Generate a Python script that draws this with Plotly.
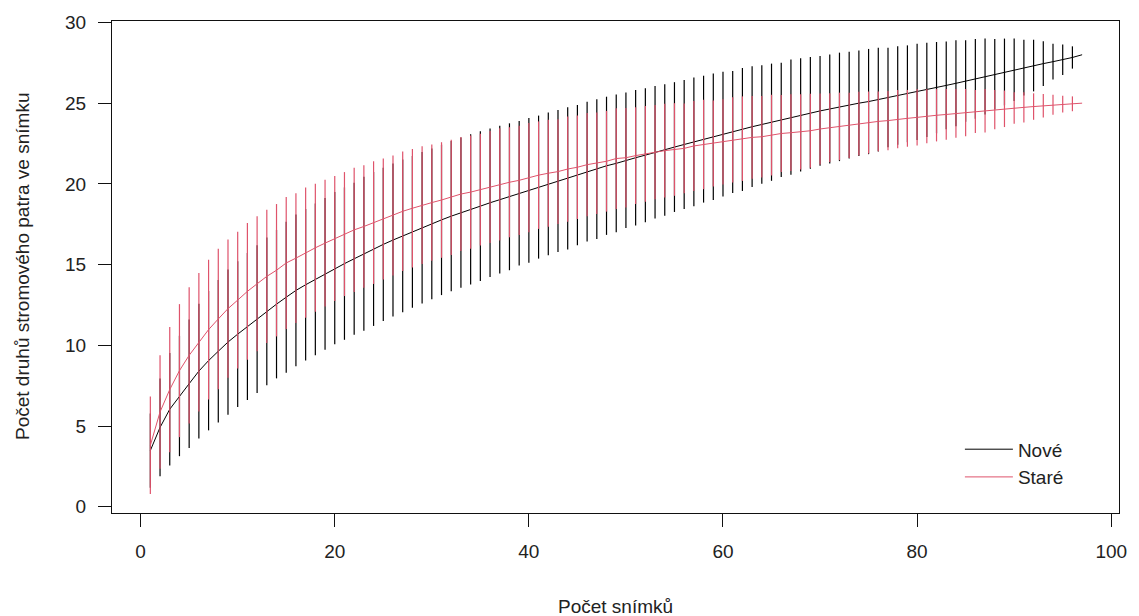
import plotly.graph_objects as go

# Species accumulation curves: mean richness and its standard deviation
# for each number of relevés (1..97), two sets of plots.
sites = list(range(1, 98))

nove_mean = [
    3.48, 4.91, 6.04, 6.86, 7.62, 8.40, 9.05, 9.63, 10.20, 10.69,
    11.16, 11.62, 12.10, 12.55, 12.98, 13.40, 13.75, 14.08, 14.42, 14.78,
    15.06, 15.36, 15.67, 15.97, 16.25, 16.52, 16.78, 17.02, 17.28, 17.52,
    17.77, 18.00, 18.22, 18.42, 18.62, 18.83, 19.02, 19.20, 19.42, 19.60,
    19.80, 20.00, 20.18, 20.34, 20.54, 20.76, 20.92, 21.12, 21.27, 21.46,
    21.62, 21.78, 21.96, 22.10, 22.28, 22.44, 22.60, 22.77, 22.92, 23.08,
    23.22, 23.37, 23.54, 23.68, 23.82, 23.97, 24.13, 24.27, 24.40, 24.52,
    24.64, 24.77, 24.88, 25.00, 25.10, 25.22, 25.35, 25.47, 25.58, 25.70,
    25.83, 25.96, 26.10, 26.23, 26.37, 26.51, 26.65, 26.79, 26.93, 27.07,
    27.20, 27.33, 27.45, 27.57, 27.69, 27.83, 28.00,
]
nove_sd = [
    2.30, 3.03, 3.48, 3.73, 3.98, 4.18, 4.32, 4.42, 4.50, 4.52,
    4.55, 4.57, 4.58, 4.60, 4.68, 4.70, 4.70, 4.70, 4.70, 4.72,
    4.72, 4.71, 4.77, 4.77, 4.75, 4.74, 4.73, 4.70, 4.69, 4.67,
    4.66, 4.66, 4.65, 4.65, 4.64, 4.60, 4.58, 4.55, 4.48, 4.48,
    4.43, 4.42, 4.40, 4.41, 4.35, 4.33, 4.33, 4.28, 4.26, 4.20,
    4.20, 4.15, 4.10, 4.07, 4.02, 3.99, 3.99, 3.93, 3.92, 3.86,
    3.78, 3.81, 3.74, 3.67, 3.63, 3.54, 3.57, 3.51, 3.46, 3.40,
    3.38, 3.36, 3.31, 3.27, 3.26, 3.21, 3.08, 3.05, 3.00, 2.98,
    2.92, 2.83, 2.72, 2.66, 2.52, 2.47, 2.35, 2.18, 2.07, 1.93,
    1.73, 1.60, 1.39, 1.11, 0.95, 0.69, 0.00,
]

stare_mean = [
    3.80, 5.87, 7.26, 8.43, 9.38, 10.19, 10.97, 11.63, 12.27, 12.80,
    13.34, 13.81, 14.27, 14.65, 15.10, 15.40, 15.74, 16.04, 16.33, 16.61,
    16.89, 17.15, 17.36, 17.60, 17.82, 18.04, 18.30, 18.49, 18.68, 18.84,
    19.00, 19.17, 19.37, 19.49, 19.64, 19.80, 19.97, 20.10, 20.22, 20.39,
    20.54, 20.66, 20.76, 20.92, 21.03, 21.19, 21.28, 21.40, 21.57, 21.62,
    21.75, 21.86, 21.97, 22.06, 22.13, 22.20, 22.35, 22.44, 22.50, 22.60,
    22.72, 22.80, 22.88, 22.92, 23.02, 23.12, 23.17, 23.22, 23.29, 23.40,
    23.48, 23.56, 23.63, 23.73, 23.80, 23.87, 23.92, 24.01, 24.06, 24.12,
    24.20, 24.25, 24.30, 24.36, 24.41, 24.48, 24.53, 24.60, 24.65, 24.70,
    24.74, 24.79, 24.84, 24.90, 24.94, 24.96, 25.00,
]
stare_sd = [
    3.02, 3.52, 3.88, 4.12, 4.22, 4.29, 4.33, 4.35, 4.28, 4.24,
    4.24, 4.18, 4.13, 4.10, 4.09, 4.02, 4.03, 3.96, 3.93, 3.87,
    3.84, 3.85, 3.80, 3.80, 3.75, 3.71, 3.70, 3.67, 3.65, 3.60,
    3.58, 3.57, 3.53, 3.51, 3.46, 3.47, 3.48, 3.41, 3.38, 3.38,
    3.33, 3.31, 3.24, 3.26, 3.20, 3.20, 3.14, 3.12, 3.12, 3.08,
    3.00, 2.97, 2.92, 2.90, 2.87, 2.78, 2.79, 2.77, 2.67, 2.64,
    2.64, 2.62, 2.57, 2.53, 2.50, 2.39, 2.38, 2.33, 2.29, 2.20,
    2.13, 2.09, 2.02, 1.98, 1.92, 1.85, 1.84, 1.81, 1.76, 1.75,
    1.68, 1.62, 1.57, 1.51, 1.46, 1.33, 1.34, 1.21, 1.13, 0.98,
    0.94, 0.82, 0.73, 0.62, 0.52, 0.46, 0.00,
]

x_ticks = [0, 20, 40, 60, 80, 100]
y_ticks = [0, 5, 10, 15, 20, 25, 30]

FONT = "Arial, Liberation Sans, sans-serif"
FS = 19
TXT = "#222222"
BLACK = "#000000"
RED = "#DF536B"

fig = go.Figure()

for name, mean, sd, col in [
    ("Nové", nove_mean, nove_sd, BLACK),
    ("Staré", stare_mean, stare_sd, RED),
]:
    fig.add_trace(go.Scatter(
        x=sites, y=mean, name=name, mode="lines",
        line=dict(color=col, width=1),
        error_y=dict(type="data", array=sd, symmetric=True,
                     width=0, thickness=1.2, color=col),
    ))

axis_common = dict(
    showgrid=False, zeroline=False,
    showline=True, mirror=True, linecolor="#111111", linewidth=1,
    ticks="outside", ticklen=13, tickwidth=1, tickcolor="#111111",
    tickfont=dict(family=FONT, size=FS, color=TXT),
    ticklabelstandoff=8,
)

fig.update_layout(
    width=1139, height=616,
    margin=dict(l=112, r=13, t=17, b=103),
    paper_bgcolor="white", plot_bgcolor="white",
    font=dict(family=FONT, size=FS, color=TXT),
    xaxis=dict(range=[-2.95, 100.8], tickvals=x_ticks, **axis_common),
    yaxis=dict(range=[-0.39, 30.09], tickvals=y_ticks, **axis_common),
    showlegend=True,
    legend=dict(
        x=0.842, y=0.168, xanchor="left", yanchor="top",
        bgcolor="rgba(0,0,0,0)", borderwidth=0,
        font=dict(family=FONT, size=FS, color=TXT),
        itemwidth=48, tracegroupgap=0,
    ),
    annotations=[
        dict(text="Počet snímků", xref="paper", yref="paper",
             x=0.5, y=0, yshift=-93, showarrow=False,
             xanchor="center", yanchor="middle",
             font=dict(family=FONT, size=FS, color=TXT)),
        dict(text="Počet druhů stromového patra ve snímku",
             xref="paper", yref="paper", x=0, y=0.5, xshift=-90,
             textangle=-90, showarrow=False,
             xanchor="center", yanchor="middle",
             font=dict(family=FONT, size=FS, color=TXT)),
    ],
)

fig.write_html("out.html")
